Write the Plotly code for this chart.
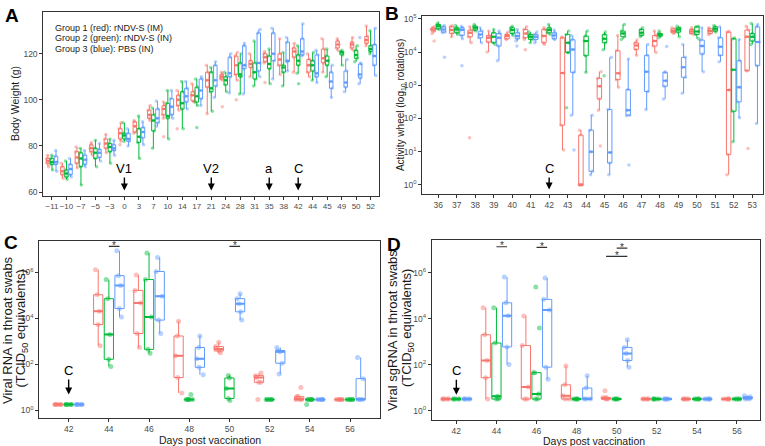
import plotly.graph_objects as go

RED, GREEN, BLUE = "#F8766D", "#00BA38", "#619CFF"
COLORS = [RED, GREEN, BLUE]

# ---- panel A: body weight (g); each box = (low whisker, q1, median, q3, high whisker)
a_days = [-11, -10, -7, -5, -3, 0, 3, 7, 10, 14, 17, 21, 24, 28, 31, 35, 38, 42, 44, 45, 49, 50, 52]
a_red = [(71, 72.5, 73.5, 74.5, 76), (66, 67.5, 69, 71, 72.5), (70.5, 72.5, 75, 77.5, 79.5),
         (76, 77.5, 79, 80.5, 81.5), (77, 79, 81, 83, 85), (82, 83, 85.5, 87.5, 90),
         (85.5, 86, 88.5, 90.5, 91), (91, 92, 93.5, 95.5, 97.5), (92, 93.5, 96, 97.5, 99),
         (95.5, 97.5, 100, 102, 104), (99, 99.5, 102, 103.5, 107), (94, 105.5, 108.5, 112, 115),
         (108.5, 109, 110, 111, 112), (108.5, 111, 115, 119, 120.5), (110, 114, 115.5, 117, 120),
         (116, 116.5, 118.5, 120, 121), (111, 115, 117.5, 120, 126.5), (112, 118.5, 121, 122.5, 124.5),
         (110, 112, 115, 117.5, 120), (112, 116, 118, 122, 126.5), (121.5, 122.5, 124, 125.5, 126.5),
         (121.5, 122.5, 124, 125, 127), (123.5, 124.5, 126, 127.5, 132)]
a_green = [(69.5, 72, 73, 74.5, 76), (65.5, 66.5, 68, 69.5, 73.5), (63, 71, 74.5, 77, 79),
           (71, 74.5, 77, 79, 82.5), (72.5, 77.5, 79.5, 81, 83), (82, 83, 84.5, 85.5, 90),
           (74.5, 81.5, 84, 87.5, 93), (79, 86.5, 91, 93.5, 96.5), (83, 92, 93, 98.5, 104),
           (87.5, 96, 98.5, 103.5, 108), (97.5, 99, 101.5, 105.5, 109), (95, 103.5, 105, 112, 114),
           (103.5, 106.5, 108.5, 110, 112), (102.5, 110, 111, 116, 120), (106, 109, 112, 116, 125.5),
           (107, 113.5, 115.5, 119, 122), (106, 112, 114, 115, 120.5), (111.5, 115, 117, 119.5, 123.5),
           (108.5, 112.5, 115, 117, 120.5), (110, 115, 117, 119, 122), (115, 119.5, 120.5, 121, 121.5),
           (116.5, 118, 119.5, 121.5, 123.5), (120, 121, 122, 123.5, 130)]
a_blue = [(69, 72, 73, 75.5, 78), (66.5, 67.5, 70, 72, 74.5), (71, 72, 74, 76, 78),
          (73.5, 75, 77, 78.5, 81), (76, 78, 79, 80.5, 82.5), (80, 82, 83, 85.5, 87.5),
          (80.5, 83.5, 86, 88, 90.5), (88.5, 90, 92, 96, 99.5), (92, 93.5, 97, 100.5, 104),
          (96, 99, 101.5, 105, 108), (97.5, 100.5, 104, 109, 110), (101, 106, 108.5, 115, 116.5),
          (103, 110, 111.5, 118.5, 120), (102.5, 113.5, 115, 123.5, 124.5), (110, 112.5, 116, 129, 130.5),
          (109, 117, 120, 129, 131), (112.5, 116.5, 117, 125, 127), (119, 119.5, 121, 126.5, 133),
          (107.5, 110, 111.5, 119.5, 121.5), (101, 105, 108, 112, 115), (103.5, 105.5, 107.5, 112.5, 117.5),
          (107, 109.5, 111, 115.5, 116), (110.5, 115, 119, 124, 131)]
# single points outside the whiskers: (day, value)
a_red_out = [(0, 80.5), (10, 84), (14, 87.5), (24, 97), (28, 100), (35, 107.5)]
a_green_out = [(17, 88), (42, 107)]
a_blue_out = [(50, 127)]

# ---- panel B: activity wheel, log10 rotations
b_days = list(range(36, 54))
b_red = [(4.56, 4.63, 4.68, 4.73, 4.76), (4.46, 4.56, 4.66, 4.76, 4.8), (4.28, 4.46, 4.58, 4.66, 4.76),
         (4.0, 4.3, 4.43, 4.5, 4.63), (4.38, 4.4, 4.48, 4.53, 4.6), (4.38, 4.43, 4.56, 4.68, 4.76),
         (4.23, 4.28, 4.48, 4.68, 4.73), (1.05, 1.8, 3.37, 4.43, 4.45), (0, 0, 0, 1.5, 1.65),
         (2.25, 2.59, 2.97, 3.21, 3.41), (2.94, 3.17, 3.36, 4.04, 4.5), (3.9, 4.08, 4.2, 4.28, 4.36),
         (3.99, 4.18, 4.33, 4.5, 4.63), (4.56, 4.58, 4.63, 4.7, 4.73), (4.53, 4.56, 4.62, 4.68, 4.73),
         (4.53, 4.56, 4.63, 4.7, 4.73), (0.31, 0.92, 2.86, 4.6, 4.62), (3.44, 3.44, 4.46, 4.66, 4.78)]
b_green = [(4.68, 4.7, 4.78, 4.83, 4.88), (4.53, 4.58, 4.68, 4.73, 4.8), (4.63, 4.66, 4.73, 4.78, 4.83),
           (4.23, 4.28, 4.46, 4.58, 4.68), (4.5, 4.56, 4.66, 4.73, 4.78), (4.28, 4.38, 4.46, 4.53, 4.6),
           (4.53, 4.58, 4.66, 4.73, 4.83), (3.98, 3.99, 4.28, 4.53, 4.63), (3.39, 3.89, 4.33, 4.48, 4.63),
           (4.07, 4.28, 4.4, 4.53, 4.6), (4.38, 4.46, 4.56, 4.63, 4.83), (4.46, 4.5, 4.58, 4.68, 4.73),
           (4.43, 4.48, 4.52, 4.56, 4.63), (4.46, 4.6, 4.68, 4.73, 4.78), (4.4, 4.53, 4.62, 4.76, 4.78),
           (4.6, 4.63, 4.7, 4.76, 4.8), (1.3, 2.22, 3.47, 4.4, 4.42), (4.23, 4.33, 4.46, 4.56, 4.86)]
b_blue = [(4.58, 4.6, 4.68, 4.76, 4.8), (4.4, 4.5, 4.66, 4.73, 4.78), (4.28, 4.43, 4.53, 4.63, 4.73),
          (3.74, 4.18, 4.43, 4.56, 4.63), (4.33, 4.4, 4.48, 4.58, 4.68), (4.28, 4.38, 4.46, 4.53, 4.6),
          (4.38, 4.4, 4.5, 4.58, 4.66), (2.1, 3.39, 4.08, 4.37, 4.5), (0.31, 0.41, 1.0, 1.65, 2.1),
          (0.31, 0.66, 0.98, 2.27, 3.84), (2.08, 2.1, 2.25, 2.87, 3.79), (2.27, 2.81, 3.41, 3.9, 4.23),
          (2.59, 2.97, 3.14, 3.39, 3.4), (2.76, 3.24, 3.54, 3.84, 4.23), (3.41, 3.94, 4.18, 4.36, 4.73),
          (3.71, 3.9, 4.16, 4.43, 4.76), (2.02, 2.5, 2.94, 3.74, 4.38), (1.85, 3.59, 4.3, 4.76, 4.83)]
b_red_out = [(36, 4.33), (38, 1.42), (41, 4.07), (45, 1.17), (53, 1.1)]
b_green_out = [(43, 2.32), (45, 3.29)]
b_blue_out = [(36, 3.84), (37, 3.59), (40, 4.18), (43, 1.05), (46, 0.6), (48, 4.17)]

# ---- panel C: viral RNA in throat swabs, log10 TCID50 equivalents
c_days = [42, 44, 46, 48, 50, 52, 54, 56]
c_red = [(0.26,) * 5, (2.81, 3.73, 4.3, 5.02, 6.11), (2.73, 3.34, 4.66, 5.21, 5.88),
         (0.76, 1.43, 2.37, 3.23, 3.87), (2.5, 2.58, 2.67, 2.77, 2.96), (1.22, 1.22, 1.43, 1.51, 1.62),
         (0.47, 0.47, 0.47, 0.6, 0.6), (0.47,) * 5]
c_green = [(0.26,) * 5, (1.91, 2.22, 3.3, 4.85, 5.68), (2.48, 2.65, 4.06, 5.68, 6.83),
           (0.47,) * 5, (0.43, 0.52, 0.95, 1.41, 1.52), (0.47,) * 5, (0.47,) * 5, (0.47,) * 5]
c_blue = [(0.26,) * 5, (4.06, 4.42, 5.42, 5.85, 6.93), (3.34, 3.92, 4.96, 6.03, 6.64),
          (1.55, 1.87, 2.24, 2.73, 3.23), (3.92, 4.28, 4.63, 4.85, 5.06), (1.58, 2.05, 2.55, 2.6, 2.73),
          (0.47,) * 5, (0.47, 0.47, 0.47, 1.38, 2.3)]
c_red_out = [(52, 0.47), (54, 1.0)]
c_green_out = [(48, 0.69), (54, 0.26)]
c_blue_out = []

# ---- panel D: viral sgRNA in throat swabs, log10 TCID50 equivalents
d_days = c_days
d_red = [(0.5,) * 5, (0.5, 1.43, 2.18, 3.3, 4.48), (0.5, 0.5, 1.03, 2.83, 4.12),
         (0.5, 0.5, 0.65, 1.12, 1.94), (0.5, 0.5, 0.53, 0.57, 0.57), (0.5,) * 5, (0.5,) * 5, (0.5,) * 5]
d_green = [(0.5,) * 5, (0.5, 0.5, 0.62, 2.94, 4.48), (0.5, 0.5, 0.72, 1.65, 1.65),
           (0.5,) * 5, (0.5,) * 5, (0.5,) * 5, (0.5,) * 5, (0.5,) * 5]
d_blue = [(0.5,) * 5, (2.01, 2.77, 4.13, 4.69, 5.81), (1.36, 1.89, 4.38, 4.84, 5.77),
          (0.5, 0.5, 0.5, 0.98, 1.51), (1.89, 2.18, 2.48, 2.75, 3.08), (0.5,) * 5, (0.5,) * 5,
          (0.5, 0.5, 0.55, 0.6, 0.65)]
d_red_out = [(50, 0.86)]
d_green_out = [(46, 3.59), (46, 5.38)]
d_blue_out = []

# significance brackets: (day, group from, group to, level)
c_sig = [(44, 1, 2, 7.12), (50, 1, 2, 7.12)]
d_sig = [(44, 1, 2, 7.13), (46, 1, 2, 7.10), (50, 1, 2, 7.07), (50, 0, 2, 6.71)]

fig = go.Figure()


def add_group(pos, stats, outs, color, xa, ya, width, psize):
    lo, q1, med, q3, hi = (list(v) for v in zip(*stats))
    common = dict(xaxis=xa, yaxis=ya, width=width, hoverinfo="skip", showlegend=False,
                  fillcolor="rgba(255,255,255,0)", whiskerwidth=0)
    fig.add_trace(go.Box(x=pos, lowerfence=lo, q1=q1, median=med, q3=q3, upperfence=hi,
                         boxpoints=False, line=dict(color=color, width=1), **common))
    # thicker median bar like ggplot
    fig.add_trace(go.Box(x=pos, lowerfence=med, q1=med, median=med, q3=med, upperfence=med,
                         boxpoints=False, line=dict(color=color, width=2), **common))
    px, py = [], []
    for p, s in zip(pos, stats):
        px += [p] * len(s)
        py += list(s)
    for p, v in outs:
        px.append(p)
        py.append(v)
    fig.add_trace(go.Box(x=px, y=py, boxpoints="all", jitter=0.8, pointpos=0,
                         line=dict(color="rgba(0,0,0,0)", width=0),
                         marker=dict(color=color, size=psize, opacity=0.45), **common))


def add_panel(xs, groups, outs, xa, ya, offset, width, psize, xmap=None):
    for k, (stats, out) in enumerate(zip(groups, outs)):
        shift = (k - 1) * offset
        pos = [x + shift for x in xs]
        if xmap:
            out = [(xmap(d) + shift, v) for d, v in out]
        else:
            out = [(d + shift, v) for d, v in out]
        add_group(pos, stats, out, COLORS[k], xa, ya, width, psize)


a_idx = list(range(len(a_days)))
add_panel(a_idx, [a_red, a_green, a_blue], [a_red_out, a_green_out, a_blue_out],
          "x", "y", 0.28, 0.24, 3.5, xmap=a_days.index)
add_panel(b_days, [b_red, b_green, b_blue], [b_red_out, b_green_out, b_blue_out],
          "x2", "y2", 0.28, 0.24, 3.5)
add_panel(c_days, [c_red, c_green, c_blue], [c_red_out, c_green_out, c_blue_out],
          "x3", "y3", 0.53, 0.46, 5)
add_panel(d_days, [d_red, d_green, d_blue], [d_red_out, d_green_out, d_blue_out],
          "x4", "y4", 0.53, 0.46, 5)

# significance brackets
for sig, xa, ya in [(c_sig, "x3", "y3"), (d_sig, "x4", "y4")]:
    for day, g0, g1, lvl in sig:
        x0, x1 = day + (g0 - 1) * 0.53, day + (g1 - 1) * 0.53
        fig.add_trace(go.Scatter(x=[x0, x1], y=[lvl, lvl], mode="lines", xaxis=xa, yaxis=ya,
                                 line=dict(color="#333333", width=1.2), hoverinfo="skip", showlegend=False))
        fig.add_annotation(x=(x0 + x1) / 2, y=lvl, xref=xa, yref=ya, text="*", showarrow=False,
                           yanchor="middle", yshift=1, font=dict(size=10, color="#333333"))

axis_style = dict(showline=True, mirror=True, linecolor="#333333", linewidth=1, ticks="outside",
                  ticklen=3, tickcolor="#333333", showgrid=False, zeroline=False, tickangle=0,
                  tickfont=dict(size=8.5, color="#4d4d4d"))

log_ticks = lambda vals: dict(tickvals=vals, ticktext=[f"10<sup>{v}</sup>" for v in vals])

fig.update_layout(
    width=765, height=446, margin=dict(l=0, r=0, t=0, b=0),
    paper_bgcolor="white", plot_bgcolor="white", boxmode="overlay", showlegend=False,
    font=dict(family="Liberation Sans, Arial, sans-serif", size=9, color="#4d4d4d"),
    xaxis=dict(domain=[0.0566, 0.4958], range=[-0.6, 22.6], tickvals=a_idx,
               ticktext=[str(d).replace("-", "\u2212") for d in a_days], anchor="y",
               **{**axis_style, "tickfont": dict(size=8, color="#4d4d4d")}),
    yaxis=dict(domain=[0.5643, 0.9791], range=[58.45, 138], tickvals=[60, 80, 100, 120],
               anchor="x", **axis_style),
    xaxis2=dict(domain=[0.5520, 0.9974], range=[35.13, 53.58], tickvals=b_days, anchor="y2", **axis_style),
    yaxis2=dict(domain=[0.5688, 0.9702], range=[-0.26, 5.08], anchor="x2", **log_ticks([0, 1, 2, 3, 4, 5]),
                **axis_style),
    xaxis3=dict(domain=[0.0514, 0.4967], range=[40.54, 57.49], tickvals=c_days, anchor="y3", **axis_style),
    yaxis3=dict(domain=[0.0605, 0.4619], range=[-0.34, 7.36], anchor="x3", **log_ticks([0, 2, 4, 6]),
                **axis_style),
    xaxis4=dict(domain=[0.5643, 0.9935], range=[40.77, 57.15], tickvals=d_days, anchor="y4", **axis_style),
    yaxis4=dict(domain=[0.0561, 0.4641], range=[-0.42, 7.43], anchor="x4", **log_ticks([0, 2, 4, 6]),
                **axis_style),
)

W, H = 765, 446


def paper_text(x, y, text, size, angle=0, anchor="center", color="#1a1a1a"):
    fig.add_annotation(x=x / W, y=1 - y / H, xref="paper", yref="paper", text=text, showarrow=False,
                       textangle=angle, xanchor=anchor, yanchor="middle",
                       font=dict(size=size, color=color))


for letter, x, y in [("A", 12, 13), ("B", 392, 11), ("C", 11, 242), ("D", 394, 244)]:
    paper_text(x, y, f"<b>{letter}</b>", 19, color="black")

for i, t in enumerate(["Group 1 (red): rNDV-S (IM)", "Group 2 (green): rNDV-S (IN)", "Group 3 (blue): PBS (IN)"]):
    paper_text(53, 25 + i * 10.5, t, 9, anchor="left")

paper_text(15, 102, "Body Weight (g)", 10.5, angle=-90)
paper_text(401, 103, "Activity wheel (log<sub>10</sub> rotations)", 10, angle=-90)
paper_text(7, 330, "Viral RNA in throat swabs", 13, angle=-90)
paper_text(21.5, 328, "(TCID<sub>50</sub> equivalents)", 13, angle=-90)
paper_text(392, 330, "Viral sgRNA in throat swabs", 13, angle=-90)
paper_text(407, 328, "(TCID<sub>50</sub> equivalents)", 13, angle=-90)
paper_text(210, 440.5, "Days post vaccination", 10.5)
paper_text(594, 441.5, "Days post vaccination", 10.5)

# event arrows
arrows = [("x", "y", a_days.index(0), 60.7, "V1", -22), ("x", "y", a_days.index(21), 60.7, "V2", -22),
          ("x", "y", a_days.index(35), 60.7, "a", -22), ("x", "y", a_days.index(42), 60.7, "C", -22),
          ("x2", "y2", 42, -0.14, "C", -21), ("x3", "y3", 42, 0.69, "C", -24),
          ("x4", "y4", 42, 0.69, "C", -24)]
for xa, ya, x, y, t, ay in arrows:
    fig.add_annotation(x=x, y=y, xref=xa, yref=ya, text=t, showarrow=True, arrowhead=2, arrowsize=1,
                       arrowwidth=1.4, arrowcolor="black", ax=0, ay=ay, font=dict(size=13, color="black"))

# the page body has a default 8px margin; drop it so the figure sits at the window corner
fig.write_html("out.html", config={"displayModeBar": False},
               post_script="document.body.style.margin='0px';")
